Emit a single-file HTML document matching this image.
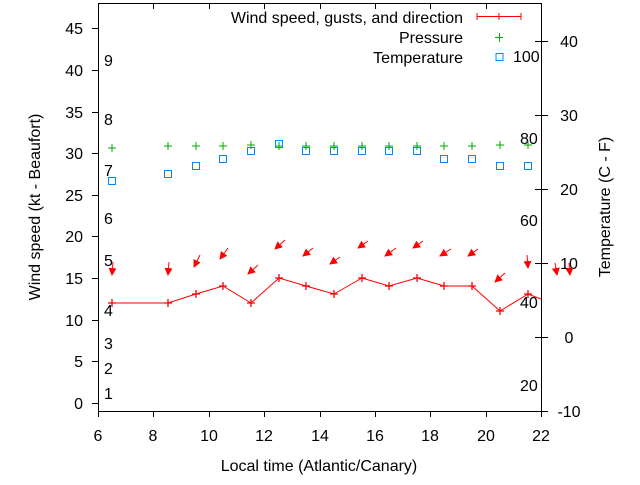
<!DOCTYPE html>
<html><head><style>body{margin:0;background:#fff}svg text{font-family:"Liberation Sans",sans-serif;font-size:16px;fill:#000}</style></head>
<body>
<svg width="640" height="480" viewBox="0 0 640 480" xmlns="http://www.w3.org/2000/svg">
<defs><marker id="ah" markerWidth="8" markerHeight="8" refX="7" refY="4" orient="auto" markerUnits="userSpaceOnUse"><path d="M0,0 L8,4 L0,8 Z" fill="#f00"/></marker></defs>
<g stroke="#000" stroke-width="1" fill="none">
<path d="M98.5,3 V411.5 H541.5 V3"/>
<line x1="98" y1="3.5" x2="541" y2="3.5"/>
<path d="M92,403.5h6M92,361.5h6M92,320.5h6M92,278.5h6M92,236.5h6M92,195.5h6M92,153.5h6M92,112.5h6M92,70.5h6M92,28.5h6"/>
<path d="M98.5,411v6M153.5,411v6M209.5,411v6M264.5,411v6M320.5,411v6M375.5,411v6M430.5,411v6M486.5,411v6M541.5,411v6"/>
<path d="M153.5,3v6M209.5,3v6M264.5,3v6M320.5,3v6M375.5,3v6M430.5,3v6M486.5,3v6"/>
<path d="M541,411.5h7M541,337.5h7M541,263.5h7M541,189.5h7M541,115.5h7M541,41.5h7"/>
<path d="M535,337.5h6M535,263.5h6M535,189.5h6M535,115.5h6M535,41.5h6"/>
</g>
<g text-anchor="end">
<text x="83" y="409">0</text><text x="83" y="367">5</text><text x="83" y="326">10</text><text x="83" y="284">15</text><text x="83" y="242">20</text><text x="83" y="201">25</text><text x="83" y="159">30</text><text x="83" y="118">35</text><text x="83" y="76">40</text><text x="83" y="34">45</text>
</g>
<g text-anchor="middle">
<text x="98" y="441">6</text><text x="153" y="441">8</text><text x="209" y="441">10</text><text x="264" y="441">12</text><text x="320" y="441">14</text><text x="375" y="441">16</text><text x="430" y="441">18</text><text x="486" y="441">20</text><text x="541" y="441">22</text>
<text x="319" y="471">Local time (Atlantic/Canary)</text>
</g>
<g text-anchor="middle">
<text x="569" y="417">-10</text><text x="569" y="343">0</text><text x="569" y="269">10</text><text x="569" y="195">20</text><text x="569" y="121">30</text><text x="569" y="47">40</text>
</g>
<text transform="translate(40,207) rotate(-90)" text-anchor="middle">Wind speed (kt - Beaufort)</text>
<text transform="translate(610,207) rotate(-90)" text-anchor="middle">Temperature (C - F)</text>
<g>
<text x="104" y="399">1</text><text x="104" y="374">2</text><text x="104" y="349">3</text><text x="104" y="316">4</text><text x="104" y="266">5</text><text x="104" y="224">6</text><text x="104" y="176">7</text><text x="104" y="125">8</text><text x="104" y="66">9</text>
<text x="513" y="62">100</text><text x="520" y="144">80</text><text x="520" y="226">60</text><text x="520" y="308">40</text><text x="520" y="391">20</text>
</g>
<g text-anchor="end">
<text x="463" y="23">Wind speed, gusts, and direction</text>
<text x="463" y="43">Pressure</text>
<text x="463" y="63">Temperature</text>
</g>
<g stroke="#f00" stroke-width="1"><path d="M477,16.5h44M477,13v7M521,13v7M499,13v7"/></g>
<g stroke="#0a0"><path d="M495,37.5h8M499.5,33v9"/></g>
<rect x="496" y="53.5" width="7" height="7" fill="none" stroke="#08f"/>
<polyline fill="none" stroke="#f00" stroke-width="1" points="112,303 168,303 196,294 223,286 251,303 279,278 306,286 334,294 362,278 389,286 417,278 444,286 472,286 500,311 528,294 541,299"/>
<g stroke="#f00" stroke-width="1.3">
<path d="M108,303h8M112,299v8M164,303h8M168,299v8M192,294h8M196,290v8M219,286h8M223,282v8M247,303h8M251,299v8M275,278h8M279,274v8M302,286h8M306,282v8M330,294h8M334,290v8M358,278h8M362,274v8M385,286h8M389,282v8M413,278h8M417,274v8M440,286h8M444,282v8M468,286h8M472,282v8M496,311h8M500,307v8M524,294h8M528,290v8"/>
</g>
<g stroke="#f00" stroke-width="1" marker-end="url(#ah)">
<line x1="113" y1="262" x2="112" y2="275"/><line x1="169" y1="262" x2="168" y2="275"/><line x1="200" y1="255" x2="194" y2="267"/><line x1="228" y1="248" x2="220" y2="259"/><line x1="258" y1="265" x2="248" y2="274"/><line x1="285" y1="240" x2="275" y2="249"/><line x1="313" y1="248" x2="303" y2="256"/><line x1="340" y1="257" x2="330" y2="264"/><line x1="368" y1="241" x2="358" y2="248"/><line x1="396" y1="248" x2="385" y2="256"/><line x1="423" y1="241" x2="413" y2="248"/><line x1="451" y1="249" x2="440" y2="256"/><line x1="478" y1="249" x2="468" y2="256"/><line x1="505" y1="273" x2="495" y2="282"/><line x1="527" y1="255" x2="528" y2="268"/><line x1="555" y1="263" x2="557" y2="275"/><line x1="569" y1="263" x2="570" y2="275"/>
</g>
<g stroke="#0a0" stroke-width="1"><path d="M108,148h8M112,144v8M164,146h8M168,142v8M192,146h8M196,142v8M219,146h8M223,142v8M247,145h8M251,141v8M275,146h8M279,142v8M302,146h8M306,142v8M330,146h8M334,142v8M358,146h8M362,142v8M385,146h8M389,142v8M413,146h8M417,142v8M440,146h8M444,142v8M468,146h8M472,142v8M496,145h8M500,141v8M524,145h8M528,141v8"/></g>
<g fill="none" stroke="#08f" stroke-width="1">
<rect x="108.5" y="177.5" width="7" height="7"/><rect x="164.5" y="170.5" width="7" height="7"/><rect x="192.5" y="162.5" width="7" height="7"/><rect x="219.5" y="155.5" width="7" height="7"/><rect x="247.5" y="147.5" width="7" height="7"/><rect x="275.5" y="140.5" width="7" height="7"/><rect x="302.5" y="147.5" width="7" height="7"/><rect x="330.5" y="147.5" width="7" height="7"/><rect x="358.5" y="147.5" width="7" height="7"/><rect x="385.5" y="147.5" width="7" height="7"/><rect x="413.5" y="147.5" width="7" height="7"/><rect x="440.5" y="155.5" width="7" height="7"/><rect x="468.5" y="155.5" width="7" height="7"/><rect x="496.5" y="162.5" width="7" height="7"/><rect x="524.5" y="162.5" width="7" height="7"/>
</g>
</svg>
</body></html>
